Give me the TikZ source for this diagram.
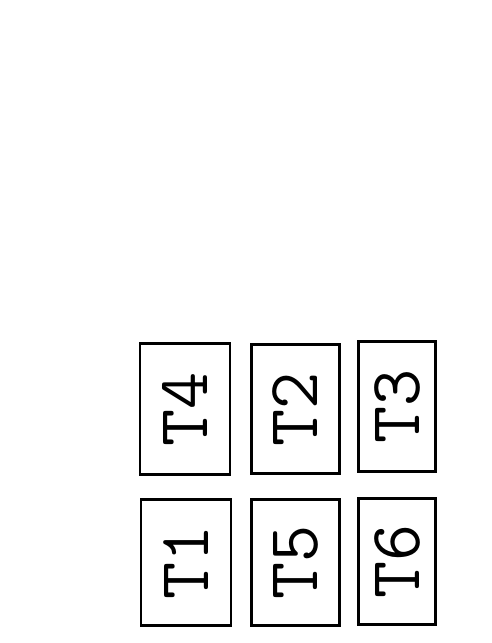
\documentclass[tikz,border=0pt]{standalone}
\usetikzlibrary{positioning}

\begin{document}
\begin{tikzpicture}[
    every node/.style={font=\ttfamily\fontsize{41}{41}\selectfont},
    tile/.style={rectangle, draw, line width=1.7pt, inner sep=0pt, minimum height=2.6cm},
    wide/.style={tile, minimum width=1.8cm},
    narrow/.style={tile, minimum width=1.54cm}
]
\useasboundingbox (0, 0) rectangle (9.84, -12.86);

% top row
\node[wide, minimum height=2.62cm] (t4) at (3.70, -8.18) {\rotatebox{90}{T4}};
\node[wide, minimum height=2.58cm, minimum width=1.76cm] (t2) at (5.91, -8.18) {\rotatebox{90}{T2}};
\node[narrow] (t3) at (7.94, -8.13) {\rotatebox{90}{T3}};

% bottom row
\node[wide, minimum height=2.52cm] (t1) at (3.72, -11.25) {\rotatebox{90}{T1}};
\node[wide, minimum height=2.52cm, minimum width=1.76cm] (t5) at (5.91, -11.25) {\rotatebox{90}{T5}};
\node[narrow, minimum height=2.52cm] (t6) at (7.94, -11.23) {\rotatebox{90}{T6}};

\end{tikzpicture}
\end{document}
